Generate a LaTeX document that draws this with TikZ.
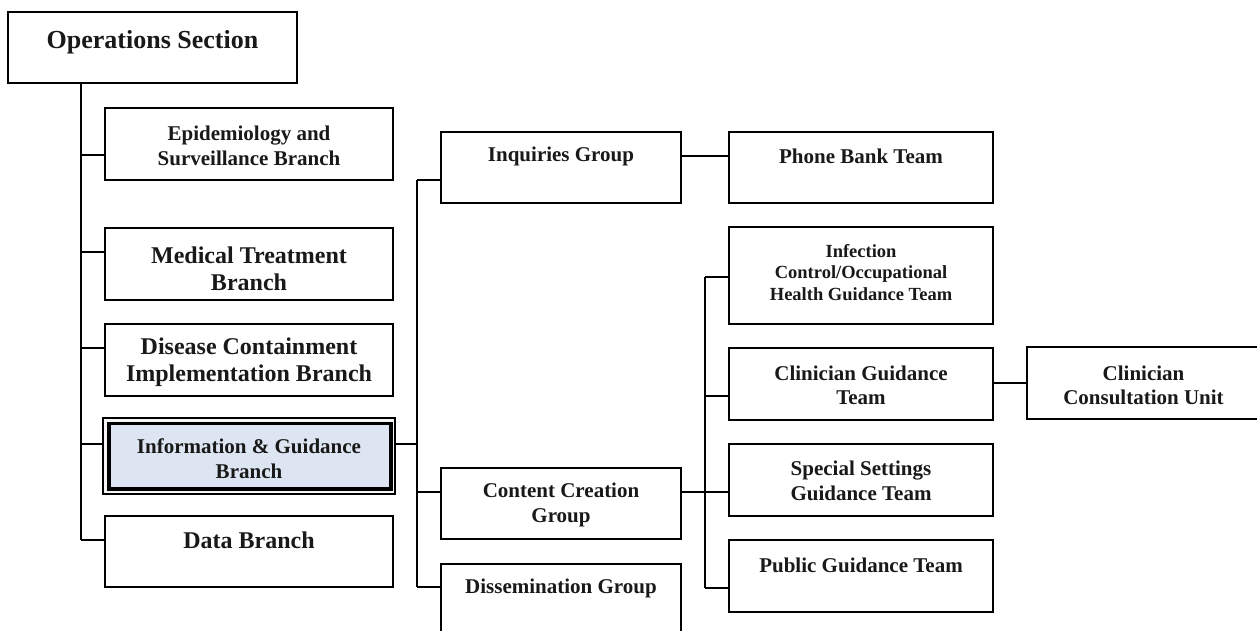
\documentclass[tikz,border=0pt]{standalone}
\usepackage{fontspec}
\setmainfont{Liberation Serif}
\definecolor{infofill}{RGB}{220,229,241}
\newcommand{\fs}[2]{\fontsize{#1}{#2}\selectfont\bfseries}
\tikzset{
  box/.style={draw, line width=2.6pt, inner sep=0pt, outer sep=0pt, anchor=north west},
  link/.style={line width=2.2pt},
  lbl/.style={align=center, inner sep=0pt, text=black!90},
}
\begin{document}
\begin{tikzpicture}[x=1pt, y=-1pt]
\clip (0,0) rectangle (1257,630);
\fill[white] (0,0) rectangle (1257,630);

% ---- boxes ----
\node[box, minimum width=289pt, minimum height=71pt] (ops)  at (8,12) {};
\node[box, minimum width=288pt, minimum height=72pt] (epi)  at (105,108) {};
\node[box, minimum width=288pt, minimum height=72pt] (med)  at (105,228) {};
\node[box, minimum width=288pt, minimum height=72pt] (dis)  at (105,324) {};
\node[box, line width=2.4pt, fill=white!96!black, minimum width=292pt, minimum height=76pt] (info) at (103,418) {};
\node[box, line width=3.4pt, fill=infofill, minimum width=282pt, minimum height=65.5pt] (infoin) at (109,423.5) {};
\node[box, minimum width=288pt, minimum height=71pt] (data) at (105,516) {};

\node[box, minimum width=240pt, minimum height=71pt] (inq)  at (441,132) {};
\node[box, minimum width=240pt, minimum height=71pt] (cc)   at (441,468) {};
\node[box, minimum width=240pt, minimum height=90pt] (dsm)  at (441,564) {};

\node[box, minimum width=264pt, minimum height=71pt] (phone) at (729,132) {};
\node[box, minimum width=264pt, minimum height=97pt] (inf)   at (729,227) {};
\node[box, minimum width=264pt, minimum height=72pt] (clin)  at (729,348) {};
\node[box, minimum width=264pt, minimum height=72pt] (spec)  at (729,444) {};
\node[box, minimum width=264pt, minimum height=72pt] (pub)   at (729,540) {};
\node[box, minimum width=260pt, minimum height=72pt] (cons)  at (1027,347) {};

% ---- labels ----
\node[lbl, font=\fs{26}{30}] (ops-t) at (152.5,42) {Operations Section};
\node[lbl, font=\fs{21}{25}] (epi-t) at (249,145.5) {Epidemiology and\\Surveillance Branch};
\node[lbl, font=\fs{24}{27}] (med-t) at (249,268.5) {Medical Treatment\\Branch};
\node[lbl, font=\fs{24}{27}] (dis-t) at (249,362.5) {Disease Containment\\Implementation Branch};
\node[lbl, font=\fs{21}{25}] (info-t) at (249,458.5) {Information \& Guidance\\Branch};
\node[lbl, font=\fs{24}{27}] (data-t) at (249,540) {Data Branch};

\node[lbl, font=\fs{21}{25}] (inq-t) at (561,156) {Inquiries Group};
\node[lbl, font=\fs{21}{25}] (cc-t)  at (561,504.5) {Content Creation\\Group};
\node[lbl, font=\fs{21}{25}] (dsm-t) at (561,588) {Dissemination Group};

\node[lbl, font=\fs{21}{25}] (phone-t) at (861,156) {Phone Bank Team};
\node[lbl, font=\fs{18.5}{21.5}] (inf-t) at (861,272.5) {Infection\\Control/Occupational\\Health Guidance Team};
\node[lbl, font=\fs{21}{24}] (clin-t) at (861,385) {Clinician Guidance\\Team};
\node[lbl, font=\fs{21}{25}] (spec-t) at (861,480.5) {Special Settings\\Guidance Team};
\node[lbl, font=\fs{21}{25}] (pub-t)  at (861,565) {Public Guidance Team};
\node[lbl, font=\fs{21}{24}] (cons-t) at (1143.5,385) {Clinician\\Consultation Unit};

% ---- trunk positions ----
\coordinate (tA) at (81,0);
\coordinate (tB) at (417,0);
\coordinate (tC) at (705,0);

% ---- connector points on the boxes ----
\coordinate (epi-in)  at ([yshift=-47pt]epi.north west);
\coordinate (med-in)  at ([yshift=-24pt]med.north west);
\coordinate (dis-in)  at ([yshift=-24pt]dis.north west);
\coordinate (info-in) at ([yshift=-26pt]info.north west);
\coordinate (info-out) at ([yshift=-26pt]info.north east);
\coordinate (data-in) at ([yshift=-24pt]data.north west);

\coordinate (inq-in)  at ([yshift=-48pt]inq.north west);
\coordinate (inq-out) at ([yshift=-24pt]inq.north east);
\coordinate (cc-in)   at ([yshift=-24pt]cc.north west);
\coordinate (cc-out)  at ([yshift=-24pt]cc.north east);
\coordinate (dsm-in)  at ([yshift=-23pt]dsm.north west);

\coordinate (phone-in) at ([yshift=-24pt]phone.north west);
\coordinate (inf-in)   at ([yshift=-50pt]inf.north west);
\coordinate (clin-in)  at ([yshift=-48pt]clin.north west);
\coordinate (clin-out) at ([yshift=-35pt]clin.north east);
\coordinate (cons-in)  at ([yshift=-36pt]cons.north west);
\coordinate (spec-in)  at ([yshift=-48pt]spec.north west);
\coordinate (pub-in)   at ([yshift=-48pt]pub.north west);

% ---- connectors ----
\draw[link] (tA |- ops.south) -- (tA |- data-in);
\foreach \b in {epi-in, med-in, dis-in, info-in, data-in}
  \draw[link] (\b) -- (\b -| tA);

\draw[link] (info-out) -- (info-out -| tB);
\draw[link] (tB |- inq-in) -- (tB |- dsm-in);
\foreach \b in {inq-in, cc-in, dsm-in}
  \draw[link] (\b) -- (\b -| tB);

\draw[link] (inq-out) -- (phone-in);
\draw[link] (cc-out) -- (spec-in);
\draw[link] (clin-out) -- (cons-in);

\draw[link] (tC |- inf-in) -- (tC |- pub-in);
\foreach \b in {inf-in, clin-in, spec-in, pub-in}
  \draw[link] (\b) -- (\b -| tC);
\end{tikzpicture}
\end{document}
